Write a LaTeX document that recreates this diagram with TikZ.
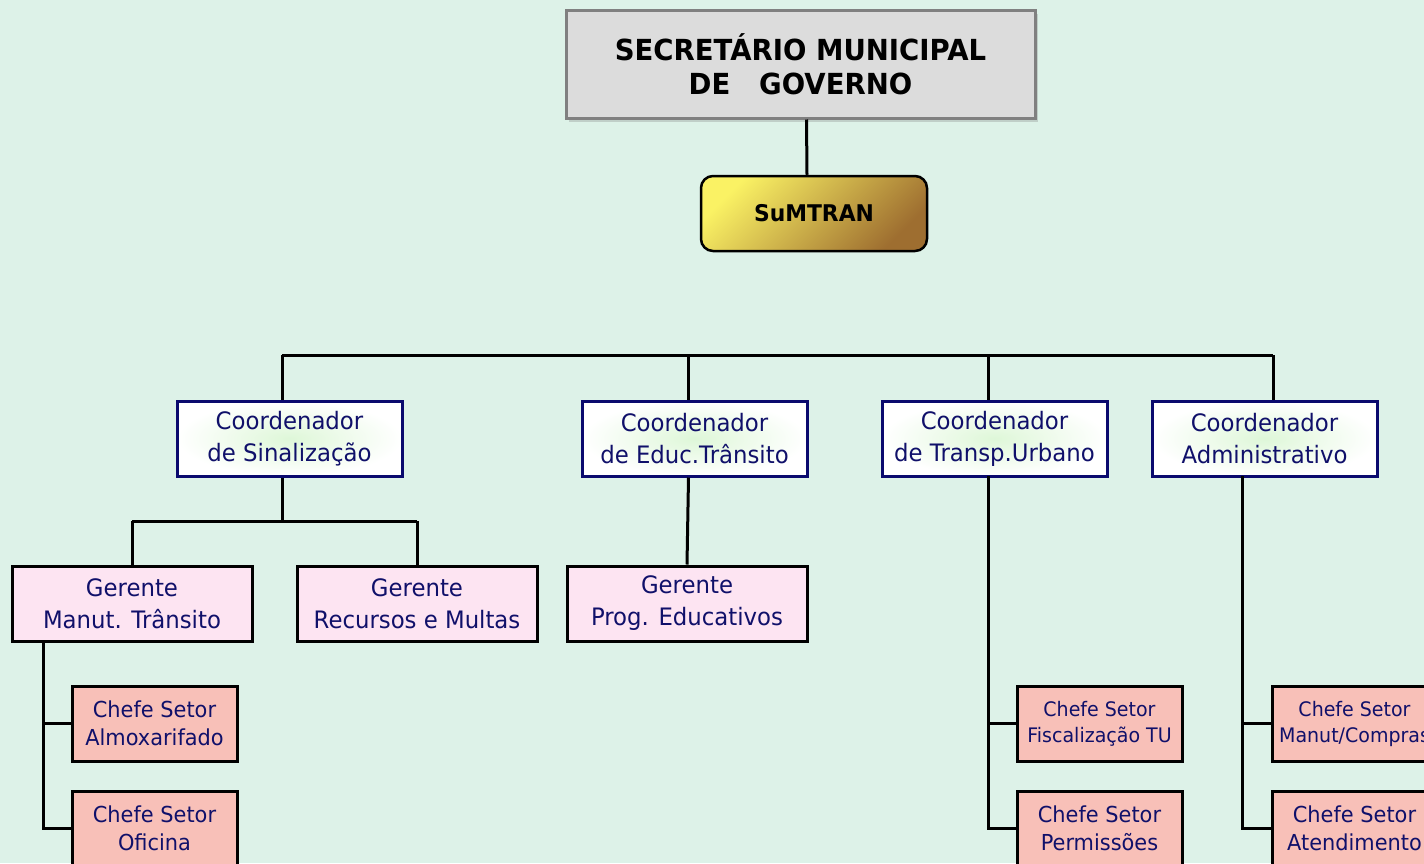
\documentclass[tikz,border=0pt]{standalone}
\usepackage{fontspec}
\setmainfont{DejaVu Sans}[FakeStretch=0.95]
\usetikzlibrary{shadows,calc}
\definecolor{bgc}{RGB}{221,242,232}
\definecolor{navy}{RGB}{16,16,106}
\definecolor{navyb}{RGB}{10,10,110}
\definecolor{topfill}{RGB}{220,220,220}
\definecolor{topline}{RGB}{128,128,128}
\definecolor{coordin}{RGB}{222,247,216}
\definecolor{gerfill}{RGB}{253,228,242}
\definecolor{chefill}{RGB}{248,192,184}
\definecolor{goldA}{RGB}{250,242,100}
\definecolor{goldB}{RGB}{158,110,48}
\tikzset{
  topbox/.style={draw=topline, line width=3pt, fill=topfill, minimum width=469pt, minimum height=108pt,
    inner sep=0pt, align=center, font=\fontsize{29}{34}\selectfont\bfseries,
    drop shadow={shadow xshift=3pt, shadow yshift=-4pt, opacity=0.3}},
  sumbox/.style={draw=black, line width=2.5pt, rounded corners=12pt, minimum width=226pt, minimum height=75pt,
    inner sep=0pt, shading=axis, top color=goldA, bottom color=goldB, shading angle=45,
    font=\fontsize{23}{28}\selectfont\bfseries},
  coordbox/.style={draw=navyb, line width=3pt, shading=radial, inner color=coordin, outer color=white,
    minimum width=225pt, minimum height=75pt,
    inner sep=0pt, align=center, text=navy, font=\fontsize{24}{32}\selectfont},
  gerbox/.style={draw=black, line width=3pt, fill=gerfill, minimum width=240pt, minimum height=75pt,
    inner sep=0pt, align=center, text=navy, font=\fontsize{24}{32}\selectfont},
  chefbox/.style={draw=black, line width=3pt, fill=chefill, minimum width=165pt, minimum height=75pt,
    inner sep=0pt, align=center, text=navy, font=\fontsize{22}{28}\selectfont},
  conn/.style={draw=black, line width=3pt},
}
\begin{document}
\begin{tikzpicture}[x=1pt,y=-1pt]
\useasboundingbox (0,0) rectangle (1424,863);
\clip (0,0) rectangle (1424,863);
\fill[bgc] (0,0) rectangle (1424,863);

\coordinate (busL) at (282,355);
\coordinate (busR) at (1273,355);
\coordinate (d2) at (688,355);
\coordinate (d3) at (988,355);
\coordinate (g1L) at (132,521);
\coordinate (g1R) at (417,521);
\coordinate (g1M) at (282,521);
\coordinate (v1) at (43,641);
\coordinate (v3) at (988,476);
\coordinate (v4) at (1242,476);

\node[topbox] (top) at (800.5,64) {SECRETÁRIO MUNICIPAL\\DE\ \ \ GOVERNO};
\node[sumbox] (sum) at (814,213.5) {SuMTRAN};

\node[coordbox] (c1) at (289.5,438.5) {Coordenador\\de Sinalização};
\node[coordbox] (c2) at (694.5,438.5) {Coordenador\\de Educ.Trânsito};
\node[coordbox] (c3) at (994.5,438.5) {Coordenador\\de Transp.Urbano};
\node[coordbox] (c4) at (1264.5,438.5) {Coordenador\\Administrativo};

\node[gerbox] (g1) at (132,603.5) {Gerente\\Manut. Trânsito};
\node[gerbox] (g2) at (417,603.5) {Gerente\\Recursos e Multas};
\node[gerbox] (g3) at (687,603.5) {Gerente\\Prog. Educativos};

\node[chefbox] (s1) at (154.5,723.5) {Chefe Setor\\Almoxarifado};
\node[chefbox] (s2) at (154.5,828.5) {Chefe Setor\\Oficina};
\node[chefbox, font=\fontsize{20}{26}\selectfont] (s3) at (1099.5,723.5) {Chefe Setor\\Fiscalização TU};
\node[chefbox] (s4) at (1099.5,828.5) {Chefe Setor\\Permissões};
\node[chefbox, font=\fontsize{20}{26}\selectfont] (s5) at (1354.5,723.5) {Chefe Setor\\Manut/Compras};
\node[chefbox] (s6) at (1354.5,828.5) {Chefe Setor\\Atendimento};

\draw[conn] ($(top.south)+(6,0)$) -- ($(sum.north)+(-7,0)$);
\draw[conn] ($(sum.south)+(-7,0)$) -- ($(sum.south)+(-7,0)$ |- busL);
\draw[conn] (busL) -- (busR);
\draw[conn] (busL) -- (busL |- c1.north);
\draw[conn] (d2) -- (d2 |- c2.north);
\draw[conn] (d3) -- (d3 |- c3.north);
\draw[conn] (busR) -- (busR |- c4.north);

\draw[conn] (g1M |- c1.south) -- (g1M);
\draw[conn] (g1L) -- (g1R);
\draw[conn] (g1L) -- (g1.north);
\draw[conn] (g1R) -- (g2.north);
\draw[conn] ($(c2.south)+(-6,0)$) -- (g3.north);

\draw[conn] (v1) |- (s2.west);
\draw[conn] (v1 |- s1.west) -- (s1.west);
\draw[conn] (v3) |- (s4.west);
\draw[conn] (v3 |- s3.west) -- (s3.west);
\draw[conn] (v4) |- (s6.west);
\draw[conn] (v4 |- s5.west) -- (s5.west);
\end{tikzpicture}
\end{document}
